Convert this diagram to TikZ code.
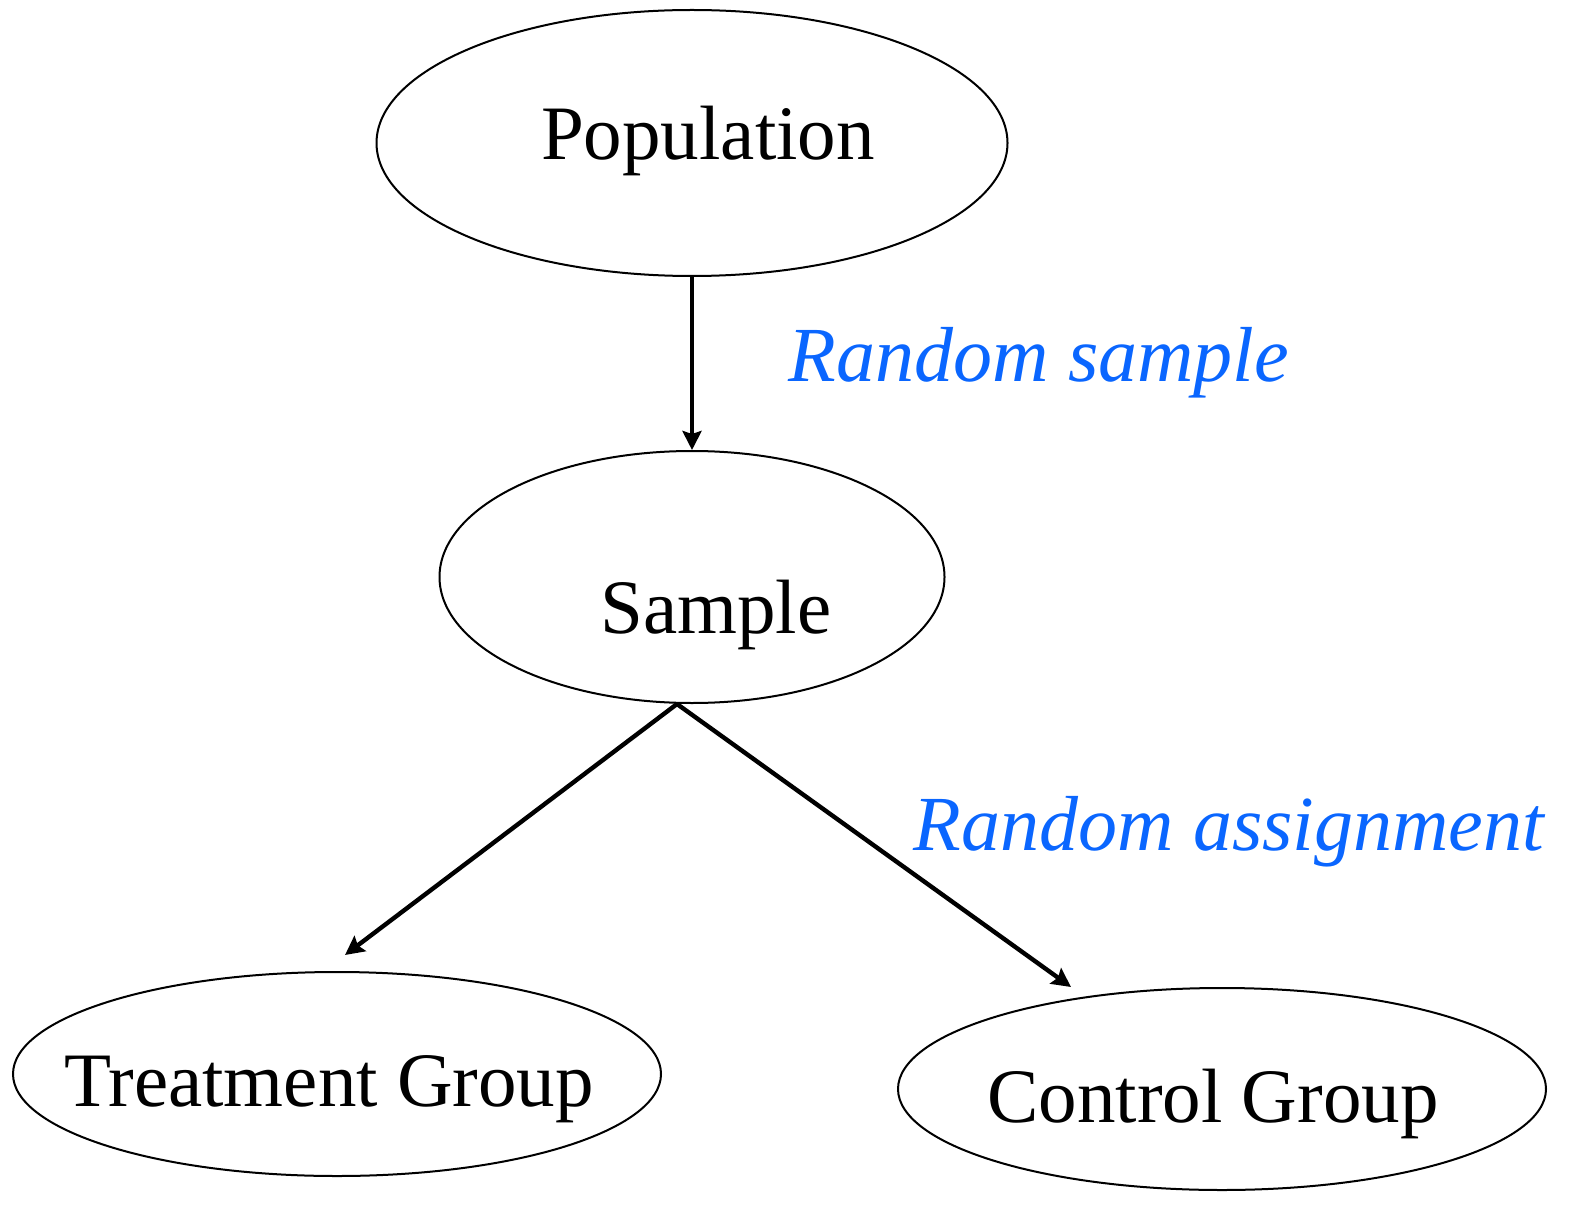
\documentclass[tikz,border=0pt]{standalone}
\usepackage{fontspec}
\setmainfont{Liberation Serif}
\usetikzlibrary{arrows.meta,shapes.geometric}
\definecolor{labelblue}{HTML}{0A66FF}
\begin{document}
\begin{tikzpicture}[x=0.5pt,y=-0.5pt,
  oval/.style={draw=black,line width=1pt,ellipse,inner sep=0pt},
  txt/.style={font=\fontsize{38.5}{44}\selectfont,anchor=base,inner sep=0pt},
  lbl/.style={font=\fontsize{39}{44}\selectfont\itshape,text=labelblue,anchor=base,inner sep=0pt},
  arr/.style={line width=2.2pt,-{Stealth[length=9.5pt,width=9.5pt,inset=1.5pt]}}]
\useasboundingbox (0,0) rectangle (1589,1208);
% ellipses
\path (692,143) node[oval,minimum width=315.5pt,minimum height=133pt] (pop) {};
\path (692,577) node[oval,minimum width=252.5pt,minimum height=126pt] (samp) {};
\path (337,1074) node[oval,minimum width=324pt,minimum height=102pt] (treat) {};
\path (1222,1089) node[oval,minimum width=324pt,minimum height=101pt] (ctrl) {};
% texts
\node[txt] (tpop) at (708,160) {Population};
\node[txt] (tsamp) at (716,633) {Sample};
\node[txt] (ttreat) at (329,1106) {Treatment Group};
\node[txt] (tctrl) at (1213,1122) {Control Group};
\node[lbl] (lrs) at (1039,381) {Random sample};
\node[lbl] (lra) at (1229,850) {Random assignment};
% connectors
\coordinate (split) at (677,704);
\coordinate (tend) at (345,955);
\coordinate (cend) at (1071,987);
\draw[arr] (pop.south) -- (samp.north);
\draw[arr] (split) -- (tend);
\draw[arr] (split) -- (cend);
\end{tikzpicture}
\end{document}
